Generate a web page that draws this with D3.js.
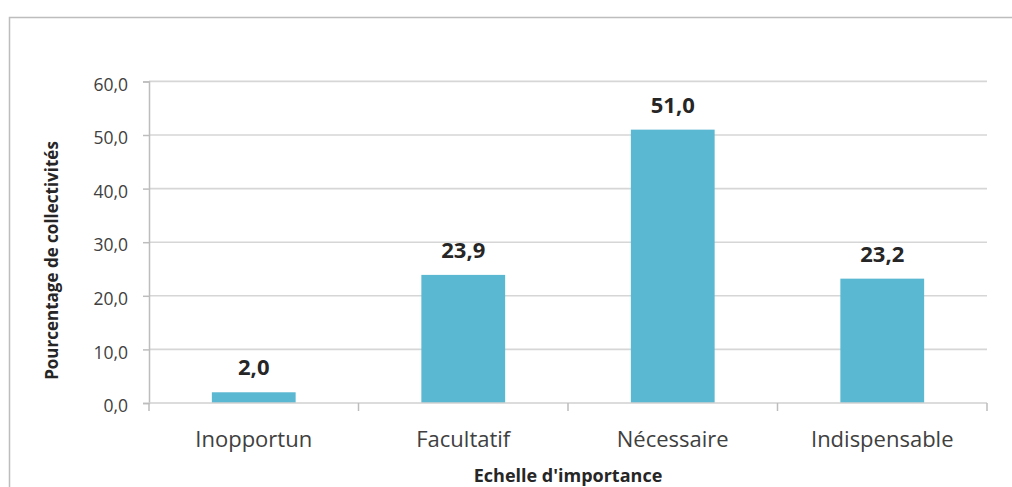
<!DOCTYPE html>
<html><head><meta charset="utf-8">
<script src="https://cdn.jsdelivr.net/npm/d3@7"></script>
<style>body{margin:0;background:#fff}svg{display:block}</style>
</head><body>
<script>
const categories = ["Inopportun","Facultatif","Nécessaire","Indispensable"];
const values = [2.0, 23.9, 51.0, 23.2];
const yTicks = [0,10,20,30,40,50,60];
const yTitle = "Pourcentage de collectivités";
const xTitle = "Echelle d'importance";

const W=1012,H=487;
const svg=d3.select("body").append("svg").attr("width",W).attr("height",H);
const font="'Open Sans', sans-serif";
svg.append("rect").attr("x",9.5).attr("y",17.5).attr("width",1010).attr("height",480)
  .attr("fill","none").attr("stroke","#bdbdbd").attr("stroke-width",1.5);

const L=149,R=987,T=81.4,B=403;
const x=d3.scaleBand().domain(categories).range([L,R]).paddingInner(0.6).paddingOuter(0.3);
const y=d3.scaleLinear().domain([0,60]).range([B,T]);
const fmt=v=>v.toFixed(1).replace(".",",");

// grid
svg.append("g").selectAll("line").data(yTicks.filter(d=>d>0)).join("line")
  .attr("x1",L).attr("x2",R).attr("y1",d=>y(d)).attr("y2",d=>y(d))
  .attr("stroke","#d6d6d6").attr("stroke-width",1.6);

// y axis
const ya=svg.append("g").attr("transform",`translate(${L},0)`)
  .call(d3.axisLeft(y).tickValues(yTicks).tickFormat(fmt).tickSize(6).tickPadding(15));
ya.select(".domain").attr("stroke","#bdbdbd").attr("stroke-width",1.5);
ya.selectAll(".tick line").attr("stroke","#bdbdbd").attr("stroke-width",1.5);
ya.selectAll("text").attr("font-family",font).attr("font-size",17.5).attr("fill","#404040").attr("dy","0.5em");

// bars
svg.append("g").selectAll("rect").data(values).join("rect")
  .attr("x",(d,i)=>x(categories[i])).attr("width",x.bandwidth())
  .attr("y",d=>y(d)).attr("height",d=>B-y(d)).attr("fill","#5BB8D2");

// x axis
const xa=svg.append("g").attr("transform",`translate(0,${B})`)
  .call(d3.axisBottom(x).tickSize(0));
xa.select(".domain").remove();
xa.append("line").attr("x1",L).attr("x2",R).attr("stroke","#d0d0d0").attr("stroke-width",1.6);
xa.selectAll(".sep").data([0,1,2,3,4]).join("line").attr("class","sep")
  .attr("x1",i=>L+i*x.step()).attr("x2",i=>L+i*x.step()).attr("y1",0).attr("y2",8)
  .attr("stroke","#bdbdbd").attr("stroke-width",1.5);
xa.selectAll(".tick text").attr("font-family",font).attr("font-size",22).attr("fill","#404040")
  .attr("y",44).attr("dy",0);

// value labels
svg.append("g").selectAll("text").data(values).join("text")
  .attr("x",(d,i)=>x(categories[i])+x.bandwidth()/2).attr("y",d=>y(d)-17)
  .attr("text-anchor","middle").attr("font-family",font).attr("font-size",22)
  .attr("font-weight","bold").attr("fill","#262626").text(fmt);

// titles
svg.append("text").attr("x",(L+R)/2-0).attr("y",482).attr("text-anchor","middle")
  .attr("font-family",font).attr("font-size",18).attr("font-weight","bold").attr("fill","#262626").text(xTitle);
svg.append("text").attr("transform",`translate(58,260.5) rotate(-90)`).attr("text-anchor","middle")
  .attr("font-family",font).attr("font-size",17).attr("font-weight","bold").attr("fill","#262626").text(yTitle);
</script>
</body></html>
